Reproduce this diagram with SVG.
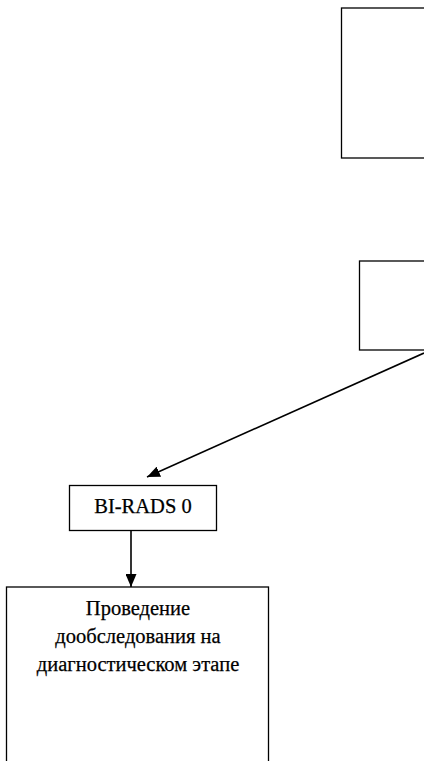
<svg xmlns="http://www.w3.org/2000/svg" width="424" height="761" viewBox="0 0 424 761">
  <style>
    .box { fill: #ffffff; stroke: #000000; stroke-width: 1.3; }
    .label { font-family: "Liberation Serif", "Times New Roman", serif; font-size: 20.5px; fill: #000000; stroke: #000000; stroke-width: 0.25; text-anchor: middle; }
    .edge { fill: none; stroke: #000000; stroke-width: 1.6; }
  </style>
  <defs>
    <marker id="arrow" viewBox="0 0 13 11" refX="13" refY="5.5" markerWidth="13" markerHeight="11" markerUnits="userSpaceOnUse" orient="auto">
      <path d="M0,0 L13,5.5 L0,11 z" fill="#000000"/>
    </marker>
  </defs>
  <rect width="424" height="761" fill="#ffffff"/>

  <g id="node-top">
    <rect class="box" x="341.5" y="8" width="100" height="150"/>
  </g>
  <g id="node-middle">
    <rect class="box" x="359.5" y="261" width="80" height="89"/>
  </g>
  <g id="node-birads0">
    <rect class="box" x="69.5" y="485.5" width="147" height="45"/>
    <text class="label" x="143" y="513">BI-RADS 0</text>
  </g>
  <g id="node-followup">
    <rect class="box" x="6.5" y="587" width="262" height="190"/>
    <text class="label" x="138" y="615">Проведение</text>
    <text class="label" x="138" y="643">дообследования на</text>
    <text class="label" x="138" y="671">диагностическом этапе</text>
  </g>

  <g id="connectors">
    <line class="edge" x1="424" y1="353" x2="147" y2="477" marker-end="url(#arrow)"/>
    <line class="edge" x1="131" y1="531" x2="131" y2="587" marker-end="url(#arrow)"/>
  </g>
</svg>
